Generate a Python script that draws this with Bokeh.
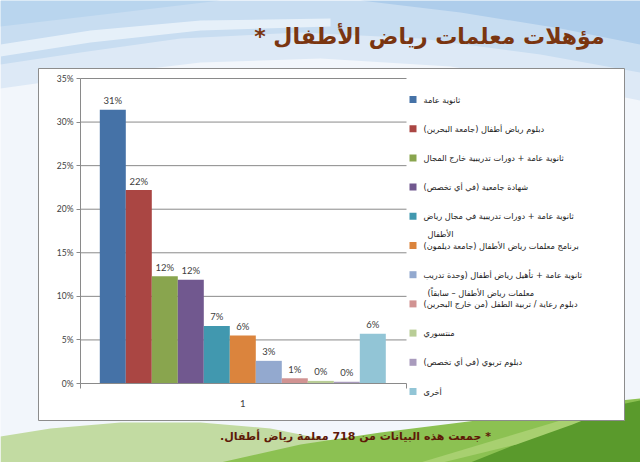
from bokeh.plotting import figure
from bokeh.models import (Range1d, ColumnDataSource, LabelSet, LinearAxis,
                          FixedTicker, PrintfTickFormatter)
from bokeh.core.properties import value
from bokeh.embed import file_html
from bokeh.resources import INLINE

# ---------------- data ----------------
title = "مؤهلات معلمات رياض الأطفال *"
footnote = "* جمعت هذه البيانات من 718 معلمة رياض أطفال."
category = "1"
series_names = [
    "ثانوية عامة",
    "دبلوم رياض أطفال (جامعة البحرين)",
    "ثانوية عامة + دورات تدريبية خارج المجال",
    "شهادة جامعية (في أي تخصص)",
    "ثانوية عامة + دورات تدريبية في مجال رياض\nالأطفال",
    "برنامج معلمات رياض الأطفال (جامعة ديلمون)",
    "ثانوية عامة + تأهيل رياض أطفال (وحدة تدريب\nمعلمات رياض الأطفال – سابقاً)",
    "دبلوم رعاية / تربية الطفل (من خارج البحرين)",
    "منتسوري",
    "دبلوم تربوي (في أي تخصص)",
    "أخرى",
]
values = [31.4, 22.2, 12.3, 11.9, 6.6, 5.5, 2.6, 0.6, 0.3, 0.2, 5.7]
value_labels = ["31%", "22%", "12%", "12%", "7%", "6%", "3%", "1%", "0%", "0%", "6%"]
colors = ["#4572A7", "#AA4643", "#89A54E", "#71588F", "#4198AF", "#DB843D",
          "#93A9CF", "#D19392", "#B9CD96", "#A99BBD", "#92C5D6"]
y_ticks = [0, 5, 10, 15, 20, 25, 30, 35]

RLM = "\u200f"

# ---------------- layout (page pixels, origin top-left) ----------------
W, H = 640, 462
PL, PR, PT, PB = 80, 406, 78, 383          # plot area
BAR0, BAR_W = 112.3, 26.0                 # centre of first bar, bar width (px)
Y_MAX = 35.0
PX_PER_PCT = (PB - PT) / Y_MAX


def bx(px):   # page px -> bar-index units
    return (px - BAR0) / BAR_W


def py2pct(py):
    return (PB - py) / PX_PER_PCT


p = figure(width=W, height=H, x_range=Range1d(0, W), y_range=Range1d(H, 0),
           output_backend="svg", toolbar_location=None, min_border=0,
           x_axis_type=None, y_axis_type=None)
p.outline_line_color = None
p.grid.visible = False
p.background_fill_color = "#f2f6fb"
p.border_fill_color = "#f2f6fb"
p.extra_x_ranges = {"bars": Range1d(bx(0), bx(W))}
p.extra_y_ranges = {"pct": Range1d(py2pct(H), py2pct(0))}

# ---------------- background ----------------
def poly(pts, color):
    p.patch([a for a, b in pts], [b for a, b in pts], fill_color=color, line_color=None)


# sky
poly([(0, 0), (640, 0), (640, 100), (560, 84), (450, 66), (320, 58), (200, 62), (100, 74), (0, 88)], "#dde9f6")
poly([(0, 0), (640, 0), (640, 72), (540, 54), (420, 38), (300, 32), (180, 38), (80, 52), (0, 64)], "#c8ddf1")
poly([(0, 44), (90, 30), (200, 20), (330, 18), (330, 26), (200, 30), (90, 42), (0, 56)], "#e6f0f9")
poly([(360, 0), (640, 0), (640, 44), (560, 28), (460, 12)], "#aecdeb")
poly([(0, 0), (220, 0), (120, 12), (0, 26)], "#b9d5ee")
# hills
poly([(0, 436), (50, 428), (120, 422), (200, 422), (270, 428), (330, 440), (380, 462), (0, 462)], "#c2dba2")
poly([(220, 462), (300, 444), (380, 432), (460, 422), (540, 412), (600, 402), (640, 398), (640, 462)], "#8cc152")
poly([(470, 462), (530, 438), (580, 418), (620, 404), (640, 400), (640, 462)], "#5a9a2c")
poly([(420, 462), (500, 438), (560, 420), (600, 408), (612, 408), (572, 424), (516, 444), (442, 462)], "#a8d070")

# chart box
p.quad(left=38, right=624, top=68, bottom=420, fill_color="white", line_color="#8c8c8c", line_width=1)

# ---------------- bars ----------------
src = ColumnDataSource(dict(x=list(range(len(values))), v=values, lab=value_labels, c=colors))
X0, X1 = bx(PL), bx(PR)
p.segment(x0=X0, x1=X1, y0=y_ticks[1:], y1=y_ticks[1:], line_color="#8a8a8a", line_width=1,
          x_range_name="bars", y_range_name="pct")
p.vbar(x="x", top="v", bottom=0, width=1.0, fill_color="c", line_color=None, source=src,
       x_range_name="bars", y_range_name="pct")
p.add_layout(LabelSet(x="x", y="v", text="lab", source=src, text_align="center", text_baseline="middle",
                      y_offset=9, text_font=value("Lato"), text_font_size="9.5px", text_color="#404040",
                      x_range_name="bars", y_range_name="pct"))

yaxis = LinearAxis(x_range_name="bars", y_range_name="pct", fixed_location=X0, bounds=(0, Y_MAX),
                   ticker=FixedTicker(ticks=y_ticks), formatter=PrintfTickFormatter(format="%d%%"))
yaxis.axis_line_color = "#8a8a8a"
yaxis.major_tick_line_color = "#8a8a8a"
yaxis.major_tick_out = 4
yaxis.major_tick_in = 0
yaxis.minor_tick_line_color = None
yaxis.major_label_standoff = 3
yaxis.major_label_text_font = "Lato"
yaxis.major_label_text_font_size = "8.5px"
yaxis.major_label_text_color = "#404040"
p.add_layout(yaxis, "left")

centre = (len(values) - 1) / 2
xaxis = LinearAxis(x_range_name="bars", y_range_name="pct", fixed_location=0, bounds=(X0, X1),
                   ticker=FixedTicker(ticks=[centre], minor_ticks=[X0 + 0.002, X1 - 0.002]))
xaxis.major_label_overrides = {centre: category}
xaxis.axis_line_color = "#8a8a8a"
xaxis.major_tick_line_color = None
xaxis.major_tick_out = 0
xaxis.minor_tick_line_color = "#8a8a8a"
xaxis.minor_tick_out = 5
xaxis.minor_tick_in = 0
xaxis.major_label_standoff = 11
xaxis.major_label_text_font = "Lato"
xaxis.major_label_text_font_size = "9.5px"
xaxis.major_label_text_color = "#404040"
p.add_layout(xaxis, "below")

# ---------------- legend ----------------
LG_TOP, LG_STEP, LG_LINE = 99, 29.2, 18
sq_x, sq_y, sq_c, lx, ly, lt = [], [], [], [], [], []
for i, (name, col) in enumerate(zip(series_names, colors)):
    cy = LG_TOP + i * LG_STEP
    sq_x.append(412.5)
    sq_y.append(cy)
    sq_c.append(col)
    for j, line in enumerate(name.split("\n")):
        lx.append(423 + (4 if j else 0))
        ly.append(cy + j * LG_LINE)
        lt.append(RLM + line + RLM)
p.rect(x=sq_x, y=sq_y, width=7, height=7, fill_color=sq_c, line_color=None)
p.text(x=lx, y=ly, text=lt, text_align="left", text_baseline="middle", text_font=value("DejaVu Sans"),
       text_font_size="8.2px", text_color="#1a1a1a")

# ---------------- title & footnote ----------------
p.text(x=[604], y=[36], text=[RLM + title + RLM], text_align="right", text_baseline="middle",
       text_font=value("DejaVu Sans"), text_font_style="bold", text_font_size="22px", text_color="#7a3510")
p.text(x=[355], y=[436], text=[RLM + footnote + RLM], text_align="center", text_baseline="middle",
       text_font=value("DejaVu Sans"), text_font_style="bold", text_font_size="11px", text_color="#5e1a08")

open("out.html", "w").write(file_html(p, INLINE))
